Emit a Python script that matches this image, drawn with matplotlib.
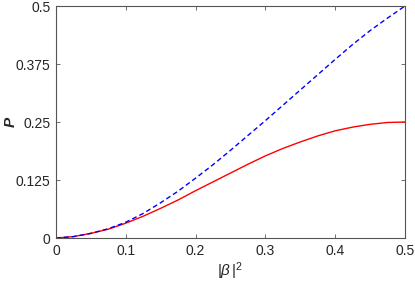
import matplotlib
matplotlib.use("Agg")
import matplotlib.pyplot as plt

x = [0, 0.025, 0.05, 0.075, 0.1, 0.125, 0.15, 0.175, 0.2, 0.225, 0.25,
     0.275, 0.3, 0.325, 0.35, 0.375, 0.4, 0.425, 0.45, 0.475, 0.5]
p_blue = [0, 0.003, 0.010, 0.020, 0.034, 0.053, 0.076, 0.101, 0.129, 0.158, 0.189,
          0.221, 0.253, 0.286, 0.319, 0.352, 0.385, 0.417, 0.447, 0.474, 0.5]
p_red = [0, 0.003, 0.010, 0.019, 0.032, 0.047, 0.064, 0.082, 0.102, 0.121, 0.140,
         0.159, 0.177, 0.193, 0.207, 0.220, 0.231, 0.239, 0.245, 0.249, 0.25]
xticks = [0, 0.1, 0.2, 0.3, 0.4, 0.5]
yticks = [0, 0.125, 0.25, 0.375, 0.5]
ytick_labels = ["0", "0.125", "0.25", "0.375", "0.5"]
xtick_labels = ["0", "0.1", "0.2", "0.3", "0.4", "0.5"]

plt.rcParams['font.family'] = ['Liberation Sans', 'DejaVu Sans']
plt.rcParams['mathtext.fontset'] = 'custom'
plt.rcParams['mathtext.rm'] = 'Liberation Sans'
plt.rcParams['mathtext.it'] = 'Liberation Sans:italic'

fig = plt.figure(figsize=(4.15, 2.82), dpi=100)
ax = fig.add_axes([56/415, 44/282, 349/415, 232/282])
ax.plot(x, p_red, color='#ff0000', lw=1.0, ls='-')
ax.plot(x, p_blue, color='#0000ff', lw=1.0, ls=(0, (3.5, 2.2)))
ax.set_xlim(0, 0.5)
ax.set_ylim(0, 0.5)
ax.set_xticks(xticks)
ax.set_xticklabels(xtick_labels)
ax.set_yticks(yticks)
ax.set_yticklabels(ytick_labels)
c = '#262626'
for s in ax.spines.values():
    s.set_color('#555555')
    s.set_linewidth(0.8)
ax.tick_params(direction='in', length=3, width=0.6, colors='#555555',
               labelcolor=c, labelsize=10, top=True, right=True, pad=4)
ax.set_xlabel(r'$|\beta\,|^2$', fontsize=11, color=c, labelpad=2)
ax.set_ylabel('P', fontsize=11, color=c, fontweight='bold', fontstyle='italic')
ax.yaxis.set_label_coords(-0.11, 0.5)
fig.savefig('out.png', dpi=100)
